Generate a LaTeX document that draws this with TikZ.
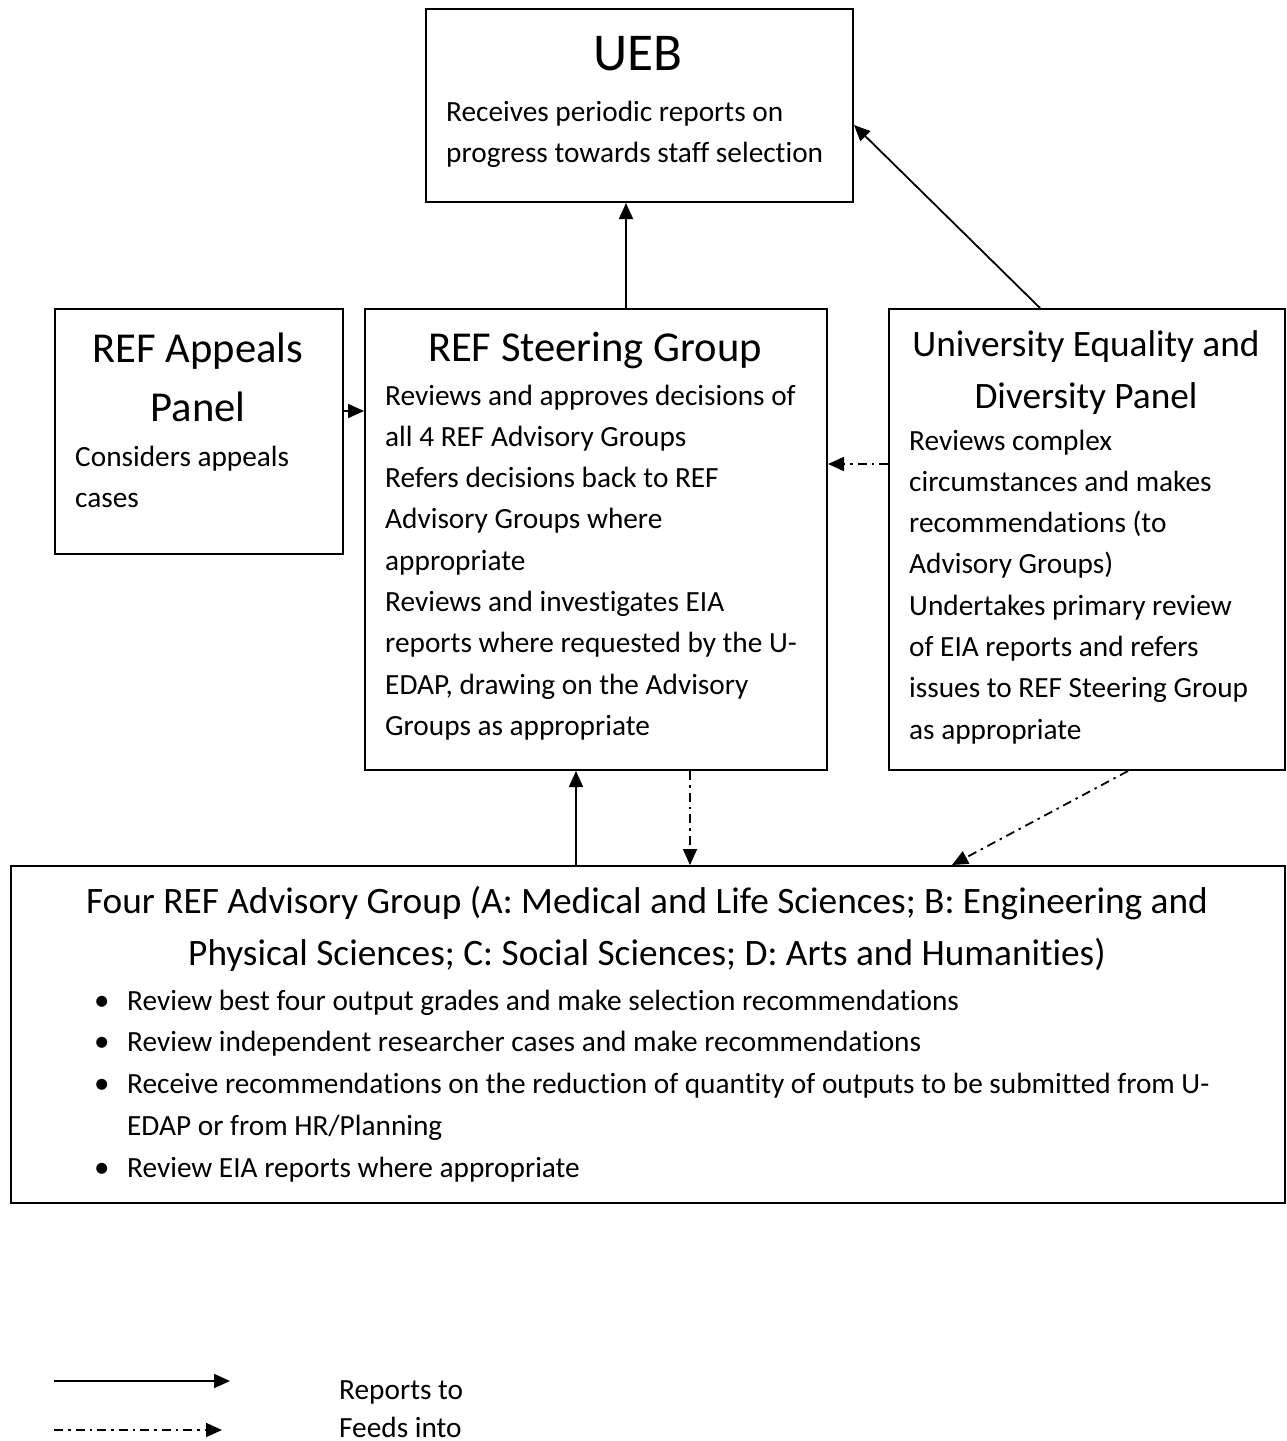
\documentclass[tikz,border=0pt]{standalone}
\usepackage{fontspec}
\setmainfont{Carlito}[Ligatures=CommonOff,RawFeature={-liga;-clig}]
\usetikzlibrary{arrows.meta}
\newcommand{\bodysz}{\fontsize{29.3pt}{41.3pt}\selectfont}
\newcommand{\titlesz}{\fontsize{42.6pt}{59.8pt}\selectfont}
\newcommand{\subtitlesz}{\fontsize{37.3pt}{52.3pt}\selectfont}
\newcommand{\uebsz}{\fontsize{53.2pt}{64pt}\selectfont}
\newcommand{\lft}[1]{\begin{tabular}[t]{@{}l@{}}#1\end{tabular}}
\newcommand{\ctr}[1]{\begin{tabular}[t]{@{}c@{}}#1\end{tabular}}
\begin{document}
\begin{tikzpicture}[x=1pt,y=-1pt,
  box/.style={draw, line width=2pt, inner sep=0, anchor=north west, fill=white},
  body/.style={inner sep=0, anchor=base west, font=\bodysz},
  ttl/.style={inner sep=0, anchor=base, font=\titlesz},
  rep/.style={line width=1.8pt, -{Triangle[length=16pt,width=14pt]}},
  feed/.style={line width=1.8pt, dash pattern=on 9pt off 5pt on 2.5pt off 5pt, -{Triangle[length=16pt,width=14pt]}}]
\fill[white] (0,0) rectangle (1287,1441);
\useasboundingbox (0,0) rectangle (1287,1441);

% boxes
\node[box, minimum width=427pt, minimum height=193pt] (ueb) at (425,8) {};
\node[box, minimum width=288pt, minimum height=245pt] (app) at (54,308) {};
\node[box, minimum width=462pt, minimum height=461pt] (steer) at (364,308) {};
\node[box, minimum width=396pt, minimum height=461pt] (ueq) at (888,308) {};
\node[box, minimum width=1274pt, minimum height=337pt] (adv) at (10,865) {};

% UEB text
\node[inner sep=0, anchor=base, font=\uebsz] (uebt) at (638,70) {UEB};
\node[body] (uebb) at (446,121) {\lft{Receives periodic reports on\\progress towards staff selection}};

% Appeals
\node[ttl] (appt) at (198,362) {\ctr{REF Appeals\\Panel}};
\node[body] (appb) at (75,466) {\lft{Considers appeals\\cases}};

% Steering
\node[ttl] (steert) at (595,361) {REF Steering Group};
\node[body] (steerb) at (385,405) {\lft{Reviews and approves decisions of\\all 4 REF Advisory Groups\\Refers decisions back to REF\\Advisory Groups where\\appropriate\\Reviews and investigates EIA\\reports where requested by the U-\\EDAP, drawing on the Advisory\\Groups as appropriate}};

% UEq
\node[inner sep=0, anchor=base, font=\subtitlesz] (ueqt) at (1086,356) {\ctr{University Equality and\\Diversity Panel}};
\node[body] (ueqb) at (909,450) {\lft{Reviews complex\\circumstances and makes\\recommendations (to\\Advisory Groups)\\Undertakes primary review\\of EIA reports and refers\\issues to REF Steering Group\\as appropriate}};

% Advisory
\node[inner sep=0, anchor=base, font=\subtitlesz] (advt) at (647,913) {\ctr{Four REF Advisory Group (A: Medical and Life Sciences; B: Engineering and\\Physical Sciences; C: Social Sciences; D: Arts and Humanities)}};
\node[inner sep=0, anchor=base west, font=\fontsize{31pt}{41.9pt}\selectfont] (advbul) at (94,1010) {\lft{•\\•\\•\\\\•}};
\node[inner sep=0, anchor=base west, font=\fontsize{29.3pt}{41.9pt}\selectfont] (advb) at (127,1010) {\lft{Review best four output grades and make selection recommendations\\Review independent researcher cases and make recommendations\\Receive recommendations on the reduction of quantity of outputs to be submitted from U-\\EDAP or from HR/Planning\\Review EIA reports where appropriate}};

% helper coordinates
\coordinate (xa) at (626,0);
\coordinate (xb) at (1040,0);
\coordinate (ya) at (0,125);
\coordinate (yc) at (0,411);
\coordinate (yd) at (0,464);
\coordinate (xe) at (576,0);
\coordinate (xf) at (690,0);
\coordinate (xg) at (1128,0);
\coordinate (xh) at (952,0);

% connectors
\draw[rep] (steer.north -| xa) -- (ueb.south -| xa);
\draw[rep] (ueq.north -| xb) -- (ueb.east |- ya);
\draw[rep] (app.east |- yc) -- (steer.west |- yc);
\draw[feed] (ueq.west |- yd) -- (steer.east |- yd);
\draw[rep] (adv.north -| xe) -- (steer.south -| xe);
\draw[feed] (steer.south -| xf) -- (adv.north -| xf);
\draw[feed] (ueq.south -| xg) -- (adv.north -| xh);

% legend
\coordinate (l1s) at (54,1381);
\coordinate (l1e) at (230,1381);
\coordinate (l2s) at (54,1430);
\coordinate (l2e) at (222,1430);
\draw[rep] (l1s) -- (l1e);
\draw[feed] (l2s) -- (l2e);
\node[body] (lrep) at (339,1399) {Reports to};
\node[body] (lfeed) at (339,1437) {Feeds into};
\end{tikzpicture}
\end{document}
